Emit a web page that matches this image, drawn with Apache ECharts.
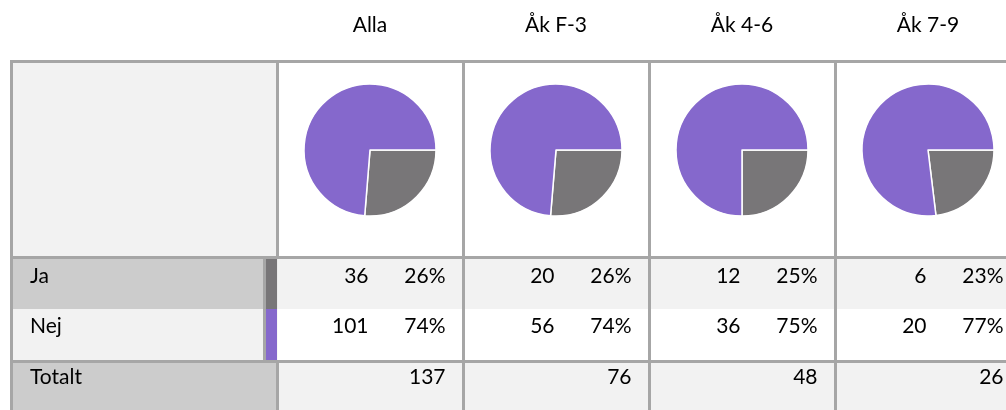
<!DOCTYPE html>
<html>
<head>
<meta charset="utf-8">
<script src="https://cdn.jsdelivr.net/npm/echarts@6/dist/echarts.min.js"></script>
<style>html,body{margin:0;padding:0;background:#fff}#c{width:1006px;height:410px}</style>
</head>
<body>
<div id="c"></div>
<script>
const groups = ['Alla', 'Åk F-3', 'Åk 4-6', 'Åk 7-9'];
const answers = ['Ja', 'Nej'];
const jaCounts = [36, 20, 12, 6];
const nejCounts = [101, 56, 36, 20];
const totalLabel = 'Totalt';

const FONT = 'Lato';
const FS = 21;
const colors = {ja: '#787678', nej: '#8568cc'};
const border = '#a6a6a6';

const chart = echarts.init(document.getElementById('c'), null, {renderer: 'canvas'});

// layout
const left = 11.5, labelRight = 277.5, colW = 186, W = 1006;
const yTop = 61.5, yPieBot = 257.5, yMid = 309, yNejBot = 361.5, yBot = 410;
const barX = 266;
const colX = i => labelRight + i * colW;

const g = [];
// backgrounds label column
g.push({type:'rect', shape:{x:left, y:yTop, width:labelRight-left, height:yPieBot-yTop}, style:{fill:'#f2f2f2'}});
g.push({type:'rect', shape:{x:left, y:yPieBot, width:labelRight-left, height:yMid-yPieBot}, style:{fill:'#cccccc'}});
g.push({type:'rect', shape:{x:left, y:yMid, width:labelRight-left, height:yNejBot-yMid}, style:{fill:'#f2f2f2'}});
g.push({type:'rect', shape:{x:left, y:yNejBot, width:labelRight-left, height:yBot-yNejBot}, style:{fill:'#cccccc'}});
// data backgrounds
g.push({type:'rect', shape:{x:labelRight, y:yPieBot, width:W-labelRight, height:yMid-yPieBot}, style:{fill:'#f2f2f2'}});
g.push({type:'rect', shape:{x:labelRight, y:yNejBot, width:W-labelRight, height:yBot-yNejBot}, style:{fill:'#f2f2f2'}});
// indicator bars
g.push({type:'rect', shape:{x:barX, y:yPieBot, width:labelRight-barX-0.5, height:yMid-yPieBot}, style:{fill:colors.ja}});
g.push({type:'rect', shape:{x:barX, y:yMid, width:labelRight-barX-0.5, height:yNejBot-yMid}, style:{fill:colors.nej}});
// borders
const line = (x1,y1,x2,y2) => g.push({type:'line', shape:{x1,y1,x2,y2}, style:{stroke:border, lineWidth:3}});
line(left-1.5, yTop, W, yTop);
line(left-1.5, yPieBot, W, yPieBot);
line(left-1.5, yNejBot, W, yNejBot);
line(left, yTop, left, yBot);
line(labelRight, yTop, labelRight, yPieBot);
line(barX-1.5, yPieBot, barX-1.5, yNejBot);
line(labelRight, yNejBot, labelRight, yBot);
for (let i = 1; i < groups.length; i++) line(colX(i), yTop, colX(i), yBot);

const txt = (text, x, y, align) => g.push({type:'text', x, y, style:{text, fill:'#000', font:FS+'px '+FONT, align, verticalAlign:'middle'}});
// row labels
txt(answers[0], 30, 276, 'left');
txt(answers[1], 30, 326, 'left');
txt(totalLabel, 30, 377, 'left');

const series = [];
groups.forEach((name, i) => {
  const cx = colX(i) + colW/2 - 0.5;
  const tot = jaCounts[i] + nejCounts[i];
  txt(name, cx, 25, 'center');
  txt(String(jaCounts[i]), colX(i)+91, 276, 'right');
  txt(Math.round(jaCounts[i]/tot*100)+'%', colX(i)+168, 276, 'right');
  txt(String(nejCounts[i]), colX(i)+91, 326, 'right');
  txt(Math.round(nejCounts[i]/tot*100)+'%', colX(i)+168, 326, 'right');
  txt(String(tot), colX(i)+168, 377, 'right');
  series.push({
    type:'pie', center:[cx, 150], radius:66, startAngle:0, clockwise:true,
    silent:true, label:{show:false}, labelLine:{show:false},
    itemStyle:{borderColor:'#fff', borderWidth:1.5},
    data:[{name:answers[0], value:jaCounts[i], itemStyle:{color:colors.ja}},
          {name:answers[1], value:nejCounts[i], itemStyle:{color:colors.nej}}]
  });
});

chart.setOption({
  animation:false,
  graphic:{elements:g.map(e => Object.assign({silent:true, z:-1}, e))},
  series
});
</script>
</body>
</html>
